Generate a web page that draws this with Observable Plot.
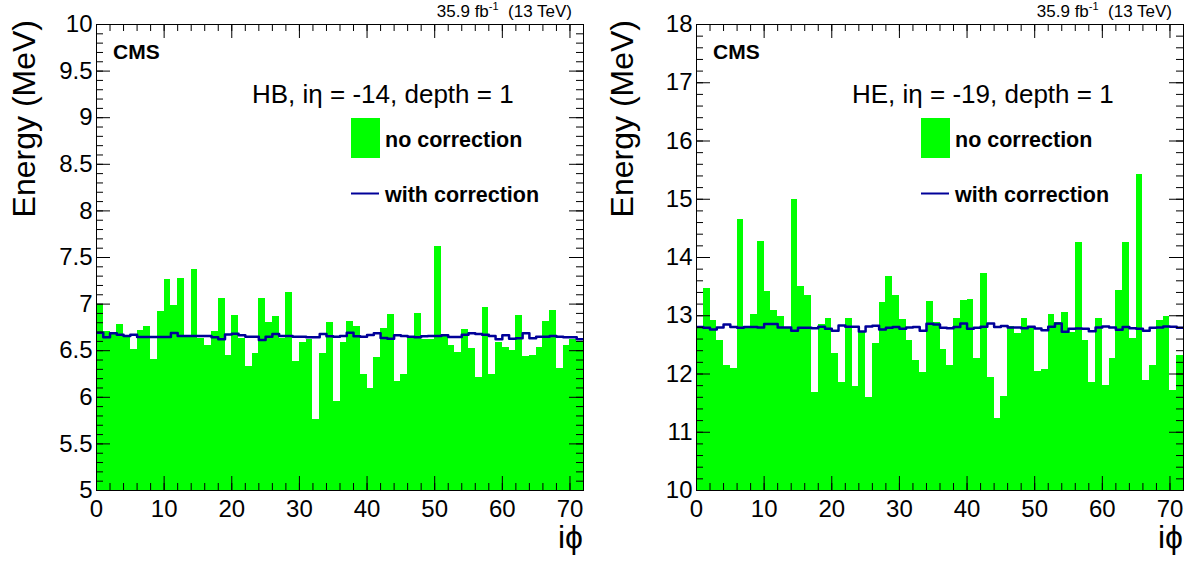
<!DOCTYPE html>
<html><head><meta charset="utf-8">
<script src="https://cdn.jsdelivr.net/npm/d3@7"></script>
<script src="https://cdn.jsdelivr.net/npm/@observablehq/plot@0.6"></script>
<style>
body{margin:0;background:#fff;}
#wrap{position:relative;width:1195px;height:561px;background:#fff;font-family:"Liberation Sans",Arial,Helvetica,sans-serif;}
#wrap svg{position:absolute;top:0;}
</style></head><body><div id="wrap"></div>
<script>
// iphi bin edges (72 bins)
const iphiEdges = d3.range(0, 73);
const xMajorTicks = [0, 10, 20, 30, 40, 50, 60, 70];
const hbYTicks = [5, 5.5, 6, 6.5, 7, 7.5, 8, 8.5, 9, 9.5, 10];
const heYTicks = [10, 11, 12, 13, 14, 15, 16, 17, 18];

// HB, ieta = -14, depth = 1
const hbNoCorr = [
  7.00, 6.71, 6.70, 6.78, 6.66, 6.51, 6.72, 6.76, 6.41, 6.92,
  7.26, 6.98, 7.28, 6.65, 7.37, 6.63, 6.56, 6.71, 7.06, 6.45,
  6.88, 6.63, 6.33, 6.47, 7.06, 6.80, 6.87, 6.63, 7.12, 6.38,
  6.59, 6.62, 5.76, 6.47, 6.80, 5.95, 6.59, 6.81, 6.76, 6.25,
  6.09, 6.43, 6.74, 6.89, 6.17, 6.24, 6.64, 6.90, 6.62, 6.62,
  7.62, 6.65, 6.56, 6.48, 6.73, 6.52, 6.21, 6.96, 6.25, 6.59,
  6.53, 6.50, 6.88, 6.44, 6.45, 6.53, 6.81, 6.93, 6.31, 6.56,
  6.62, 6.60];
const hbWithCorr = [
  6.693, 6.643, 6.686, 6.672, 6.658, 6.672, 6.647, 6.647, 6.647, 6.647,
  6.647, 6.690, 6.658, 6.658, 6.658, 6.658, 6.658, 6.643, 6.622, 6.675,
  6.683, 6.665, 6.651, 6.651, 6.615, 6.651, 6.679, 6.658, 6.658, 6.651,
  6.651, 6.643, 6.643, 6.679, 6.654, 6.651, 6.658, 6.693, 6.654, 6.651,
  6.668, 6.686, 6.636, 6.629, 6.665, 6.658, 6.651, 6.643, 6.654, 6.658,
  6.658, 6.665, 6.647, 6.647, 6.672, 6.686, 6.679, 6.672, 6.658, 6.622,
  6.665, 6.629, 6.633, 6.686, 6.633, 6.651, 6.651, 6.658, 6.651, 6.643,
  6.643, 6.622];

// HE, ieta = -19, depth = 1
const heNoCorr = [
  12.79, 13.47, 12.92, 12.57, 12.15, 12.10, 14.65, 12.79, 13.02, 14.27,
  13.42, 13.09, 12.99, 12.78, 14.99, 13.50, 13.34, 11.68, 12.85, 12.96,
  12.35, 11.86, 12.96, 11.78, 12.73, 11.59, 12.52, 13.23, 13.68, 13.35,
  12.94, 12.57, 12.24, 12.02, 13.25, 12.88, 12.42, 12.14, 12.95, 13.27,
  13.28, 12.26, 13.73, 11.94, 11.24, 11.62, 12.82, 12.69, 12.95, 12.79,
  12.04, 12.07, 13.02, 12.88, 13.06, 12.71, 14.25, 12.57, 11.85, 12.95,
  11.80, 12.26, 13.44, 14.26, 12.61, 15.42, 11.89, 12.14, 12.92, 12.99,
  11.71, 12.31];
const heWithCorr = [
  12.805, 12.793, 12.764, 12.799, 12.851, 12.805, 12.793, 12.805, 12.805, 12.799,
  12.857, 12.857, 12.799, 12.799, 12.741, 12.793, 12.793, 12.787, 12.811, 12.776,
  12.741, 12.834, 12.811, 12.811, 12.730, 12.816, 12.828, 12.764, 12.793, 12.805,
  12.776, 12.799, 12.805, 12.741, 12.863, 12.850, 12.793, 12.787, 12.805, 12.868,
  12.776, 12.793, 12.811, 12.868, 12.805, 12.822, 12.799, 12.799, 12.787, 12.811,
  12.782, 12.753, 12.811, 12.868, 12.724, 12.776, 12.782, 12.776, 12.735, 12.799,
  12.816, 12.799, 12.759, 12.805, 12.787, 12.776, 12.741, 12.793, 12.799, 12.816,
  12.811, 12.793];

const FONT = '"Liberation Sans", Arial, Helvetica, sans-serif';
const GREEN = "#00ff00";
const BLUE = "#000099";

function panel(cfg) {
  const {values, corr, yDomain, yMajor, yMinor, width, ml, mr, left, label, lumiX, titleX, legendX} = cfg;
  const mt = 24, mb = 71, height = 561;
  const H = height - mt - mb, W = width - ml - mr;
  const bins = values.map((v, i) => ({x1: iphiEdges[i], x2: iphiEdges[i + 1], v}));
  const steps = corr.map((v, i) => ({x: iphiEdges[i], v})).concat([{x: iphiEdges[72], v: corr[corr.length - 1]}]);
  const xMinor = d3.range(0, 73, 2);
  const svg = Plot.plot({
    width, height, marginLeft: ml, marginRight: mr, marginTop: mt, marginBottom: mb,
    style: {fontFamily: FONT, background: "white", color: "black", overflow: "visible"},
    x: {domain: [0, 72]},
    y: {domain: yDomain},
    marks: [
      Plot.rect(bins, {x1: "x1", x2: "x2", y1: () => yDomain[0], y2: "v", fill: GREEN, shapeRendering: "crispEdges", clip: true}),
      Plot.line(steps, {x: "x", y: "v", curve: "step-after", stroke: BLUE, strokeWidth: 2.5, clip: true}),
      Plot.tickX(xMinor, {x: d => d, insetTop: H - 7, stroke: "black"}),
      Plot.tickX(xMajorTicks, {x: d => d, insetTop: H - 14, stroke: "black"}),
      Plot.tickX(xMinor, {x: d => d, insetBottom: H - 7, stroke: "black"}),
      Plot.tickX(xMajorTicks, {x: d => d, insetBottom: H - 14, stroke: "black"}),
      Plot.tickY(yMinor, {y: d => d, insetRight: W - 7, stroke: "black"}),
      Plot.tickY(yMajor, {y: d => d, insetRight: W - 14, stroke: "black"}),
      Plot.tickY(yMinor, {y: d => d, insetLeft: W - 7, stroke: "black"}),
      Plot.tickY(yMajor, {y: d => d, insetLeft: W - 14, stroke: "black"}),
      Plot.frame({stroke: "black", strokeWidth: 1}),
      Plot.axisX(xMajorTicks, {tickSize: 0, tickPadding: 9, fontSize: 24, label: null, tickFormat: d => String(d)}),
      Plot.axisY(yMajor, {tickSize: 0, tickPadding: 4, fontSize: 24, label: null, tickFormat: d => String(d)})
    ]
  });
  svg.style.left = left + "px";
  const s = d3.select(svg);
  const g = s.append("g").attr("font-family", FONT).attr("fill", "black").attr("text-anchor", "start");
  // y title
  g.append("text").attr("transform", `translate(35,20) rotate(-90)`).attr("text-anchor", "end")
    .attr("font-size", 32).text("Energy (MeV)");
  // x title
  g.append("text").attr("x", width - mr).attr("y", 548).attr("text-anchor", "end")
    .attr("font-size", 32).text("i\u03d5");
  // lumi
  const lt = g.append("text").attr("x", lumiX).attr("y", 17).attr("text-anchor", "end").attr("font-size", 17);
  lt.append("tspan").text("35.9 fb");
  lt.append("tspan").attr("font-size", 11).attr("dy", -7).text("-1");
  lt.append("tspan").attr("dy", 7).text("\u00a0 (13 TeV)");
  // CMS
  g.append("text").attr("x", ml + 17).attr("y", 59).attr("font-size", 21).attr("font-weight", "bold").text("CMS");
  // region label
  g.append("text").attr("x", titleX).attr("y", 103).attr("font-size", 26).text(label);
  // legend
  g.append("rect").attr("x", legendX).attr("y", 118).attr("width", 29).attr("height", 40).attr("fill", GREEN);
  g.append("text").attr("x", legendX + 34).attr("y", 147).attr("font-size", 21.5).attr("font-weight", "bold").text("no correction");
  g.append("line").attr("x1", legendX).attr("x2", legendX + 28).attr("y1", 193.5).attr("y2", 193.5).attr("stroke", BLUE).attr("stroke-width", 2);
  g.append("text").attr("x", legendX + 34).attr("y", 202).attr("font-size", 21.5).attr("font-weight", "bold").text("with correction");
  document.getElementById("wrap").appendChild(svg);
}

panel({
  values: hbNoCorr, corr: hbWithCorr, yDomain: [5, 10], yMajor: hbYTicks,
  yMinor: d3.range(50, 101).map(d => d / 10),
  width: 598, ml: 96, mr: 15, left: 0,
  label: "HB, iη = -14, depth = 1", lumiX: 572, titleX: 252, legendX: 351
});
panel({
  values: heNoCorr, corr: heWithCorr, yDomain: [10, 18], yMajor: heYTicks,
  yMinor: d3.range(50, 91).map(d => d / 5),
  width: 597, ml: 98, mr: 12, left: 598,
  label: "HE, iη = -19, depth = 1", lumiX: 574, titleX: 254, legendX: 323
});
</script></body></html>
